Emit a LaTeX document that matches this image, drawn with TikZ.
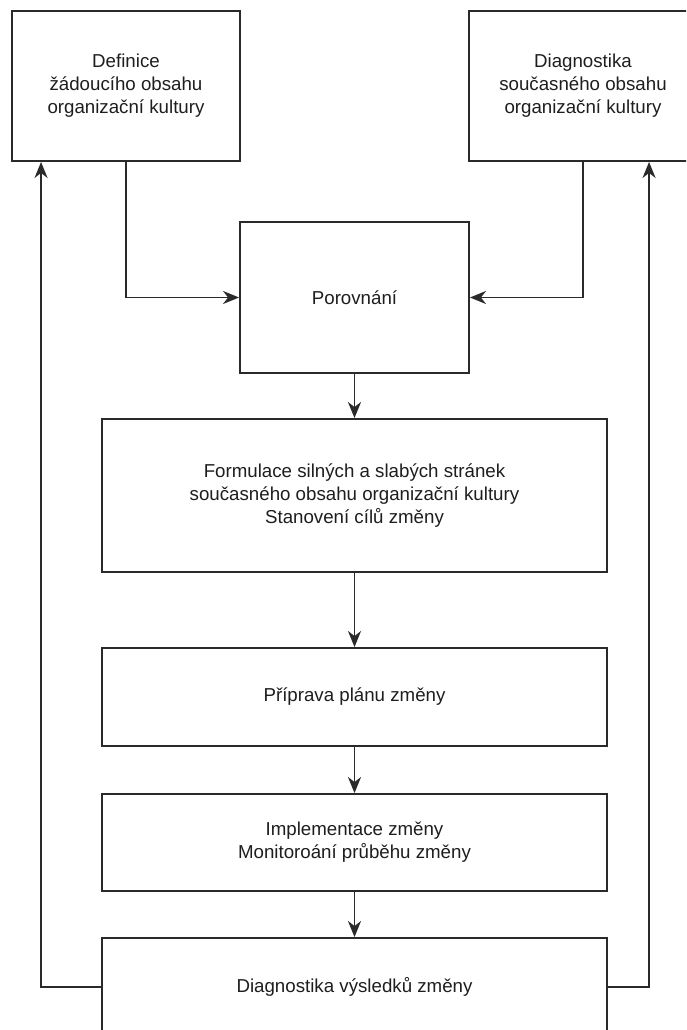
\documentclass[tikz,border=0pt]{standalone}
\usepackage{fontspec}
\setmainfont{Liberation Sans}
\usetikzlibrary{arrows.meta}
\definecolor{lc}{HTML}{2A2A2A}
\definecolor{tc}{HTML}{1E1E1E}
\begin{document}
\begin{tikzpicture}[x=1pt,y=-1pt,
  box/.style={draw=lc, line width=1.9pt, fill=white, align=center, inner sep=0pt,
    font=\fontsize{18.7}{23}\selectfont, text=tc},
  arr/.style={draw=lc, line width=1.8pt, -{Stealth[length=16pt,width=13pt,inset=5pt]}},
]
\useasboundingbox (0,0) rectangle (686,1030);
\clip (0,0) rectangle (686,1030);
\fill[white] (0,0) rectangle (686,1030);

\node[box, minimum width=228pt, minimum height=150pt] (def) at (126,86)
  {Definice\\žádoucího obsahu\\organizační kultury};
\node[box, minimum width=228pt, minimum height=150pt] (diag) at (583,86)
  {Diagnostika\\současného obsahu\\organizační kultury};
\node[box, minimum width=229pt, minimum height=151pt] (por) at (354.5,297.5)
  {Porovnání};
\node[box, minimum width=505pt, minimum height=153pt] (form) at (354.5,495.5)
  {Formulace silných a slabých stránek\\současného obsahu organizační kultury\\Stanovení cílů změny};
\node[box, minimum width=505pt, minimum height=98pt] (plan) at (354.5,697)
  {Příprava plánu změny};
\node[box, minimum width=505pt, minimum height=97pt] (impl) at (354.5,842.5)
  {Implementace změny\\Monitoroání průběhu změny};
\node[box, minimum width=505pt, minimum height=98pt] (res) at (354.5,987)
  {Diagnostika výsledků změny};

\draw[arr] (def.south) |- (por.west);
\draw[arr] (diag.south) |- (por.east);
\draw[arr] (por.south) -- (form.north);
\draw[arr] (form.south) -- (plan.north);
\draw[arr] (plan.south) -- (impl.north);
\draw[arr] (impl.south) -- (res.north);
\coordinate (lt) at ([xshift=30pt]def.south west);
\coordinate (rt) at ([xshift=181pt]diag.south west);
\draw[arr] (res.west) -| (lt);
\draw[arr] (res.east) -| (rt);
\end{tikzpicture}
\end{document}
